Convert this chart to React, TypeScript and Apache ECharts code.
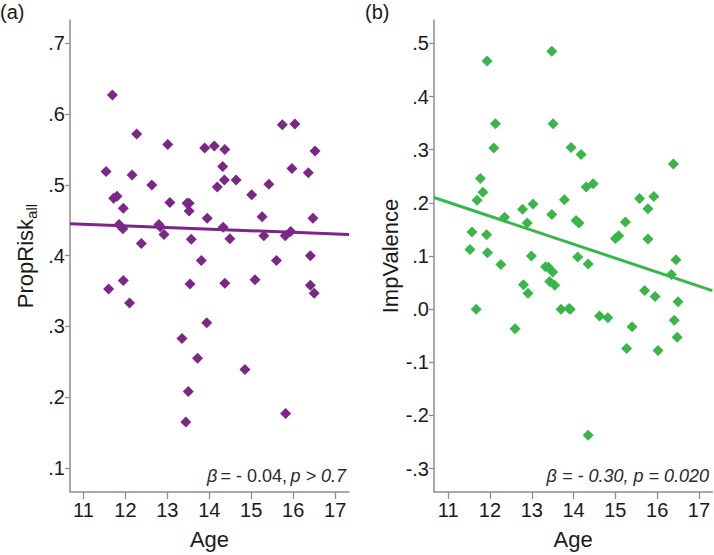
import React, { useEffect, useRef } from "react";
import * as echarts from "echarts";

// Panel (a): Age vs PropRisk_all
const ageA = [
  11.69, 11.54, 12.16, 12.27, 12.63, 11.72, 11.8, 11.95, 11.85, 11.94, 12.38, 12.8, 12.83, 12.92, 13.01,
  13.06, 13.47, 13.52, 13.52, 13.57, 13.81, 13.89, 13.95, 14.12, 14.19, 14.32, 14.37, 14.36, 14.33, 14.49,
  14.64, 15.01, 15.26, 15.3, 15.42, 15.6, 15.74, 16.04, 15.97, 15.81, 15.94, 16.36, 16.52, 16.47, 16.41,
  11.6, 11.95, 12.1, 13.54, 14.37, 15.09, 16.41, 16.5, 13.94, 13.35, 13.72, 14.85, 13.5, 13.44, 15.82,
];
const riskA = [
  0.627, 0.519, 0.514, 0.572, 0.5, 0.481, 0.484, 0.467, 0.444, 0.438, 0.417, 0.444, 0.441, 0.43, 0.557,
  0.475, 0.474, 0.474, 0.463, 0.423, 0.393, 0.552, 0.453, 0.555, 0.497, 0.526, 0.55, 0.507, 0.44, 0.424,
  0.507, 0.486, 0.455, 0.428, 0.501, 0.393, 0.585, 0.586, 0.523, 0.428, 0.434, 0.517, 0.548, 0.453, 0.4,
  0.353, 0.365, 0.333, 0.36, 0.361, 0.366, 0.358, 0.347, 0.305, 0.283, 0.255, 0.239, 0.208, 0.165, 0.177,
];
const fitAgeA = [10.68, 17.33];
const fitRiskA = [0.445, 0.43];

// Panel (b): Age vs ImpValence
const ageB = [
  11.93, 13.48, 12.13, 13.51, 12.09, 13.94, 14.18, 11.77, 11.83, 11.69, 12.35, 12.78, 12.89, 13.03, 13.48,
  13.78, 14.3, 14.47, 14.06, 14.13, 11.57, 11.92, 11.52, 11.94, 12.26, 12.99, 13.33, 13.4, 13.5, 14.1,
  14.35, 15.0, 15.08, 15.24, 15.58, 15.78, 15.92, 15.78, 16.39, 16.45, 16.34, 12.8, 12.91, 13.43, 13.55,
  15.7, 15.95, 16.5, 11.67, 13.7, 13.89, 13.92, 12.6, 14.62, 14.82, 15.4, 16.41, 16.48, 15.27, 16.02, 14.35,
];
const valB = [
  0.467, 0.485, 0.349, 0.349, 0.303, 0.304, 0.291, 0.246, 0.22, 0.205, 0.173, 0.188, 0.162, 0.198, 0.178,
  0.206, 0.23, 0.236, 0.167, 0.162, 0.145, 0.14, 0.112, 0.106, 0.084, 0.1, 0.08, 0.079, 0.07, 0.098,
  0.085, 0.133, 0.138, 0.164, 0.208, 0.189, 0.212, 0.132, 0.273, 0.093, 0.065, 0.046, 0.03, 0.052, 0.045,
  0.035, 0.024, 0.014, 0.0, 0.0, 0.001, 0.0, -0.037, -0.013, -0.016, -0.033, -0.021, -0.053, -0.074, -0.078, -0.237,
];
const fitAgeB = [10.66, 17.32];
const fitValB = [0.21, 0.035];

// Axis ticks
const xTicks = [11, 12, 13, 14, 15, 16, 17];
const yTicksA = [0.1, 0.2, 0.3, 0.4, 0.5, 0.6, 0.7];
const yTicksB = [-0.3, -0.2, -0.1, 0.0, 0.1, 0.2, 0.3, 0.4, 0.5];

const PURPLE = "#7a2785";
const GREEN = "#39b54a";
const FONT = "Liberation Sans, Arial, sans-serif";
const AXIS_COLOR = "#8e8e8e";
const TEXT_COLOR = "#1a1a1a";

const fmtDot = (v: number) => {
  const s = Math.abs(v).toFixed(1).replace(/^0/, "");
  return v < -1e-9 ? "-" + s : s;
};

const zip = (xs: number[], ys: number[]) => xs.map((x, i) => [x, ys[i]]);

export default function App() {
  const ref = useRef<HTMLDivElement>(null);
  useEffect(() => {
    document.body.style.margin = "0";
    if (!ref.current) return;
    const chart = echarts.init(ref.current, null, { renderer: "svg" });

    const xAxisBase = (gridIndex: number, min: number, max: number) => ({
      type: "value",
      gridIndex,
      min,
      max,
      name: "Age",
      nameLocation: "middle",
      nameGap: 36,
      nameTextStyle: { fontFamily: FONT, fontSize: 22, color: TEXT_COLOR },
      axisLine: { show: true, onZero: false, lineStyle: { color: AXIS_COLOR, width: 1.5 } },
      axisTick: { show: true, length: 7, customValues: xTicks, lineStyle: { color: AXIS_COLOR, width: 1.3 } },
      axisLabel: {
        customValues: xTicks,
        fontFamily: FONT,
        fontSize: 20,
        color: TEXT_COLOR,
        margin: 8,
      },
      splitLine: { show: false },
    });

    const yAxisBase = (gridIndex: number, min: number, max: number, ticks: number[], name: string, rich: any) => ({
      type: "value",
      gridIndex,
      min,
      max,
      name,
      nameLocation: "middle",
      nameRotate: 90,
      nameGap: 31,
      nameTextStyle: { fontFamily: FONT, fontSize: 22, color: TEXT_COLOR, rich },
      axisLine: { show: true, onZero: false, lineStyle: { color: AXIS_COLOR, width: 1.5 } },
      axisTick: { show: true, length: 5, customValues: ticks, lineStyle: { color: AXIS_COLOR, width: 1.3 } },
      axisLabel: {
        customValues: ticks,
        formatter: (v: number) => fmtDot(v),
        fontFamily: FONT,
        fontSize: 20,
        color: TEXT_COLOR,
        margin: 5,
      },
      splitLine: { show: false },
    });

    const richName = {
      m: { fontFamily: FONT, fontSize: 22, color: TEXT_COLOR, lineHeight: 28, verticalAlign: "middle" },
      sub: { fontFamily: FONT, fontSize: 15, color: TEXT_COLOR, lineHeight: 15, verticalAlign: "bottom" },
    };

    chart.setOption({
      animation: false,
      backgroundColor: "#ffffff",
      grid: [
        { left: 70, top: 20, width: 279, bottom: 59.7, containLabel: false },
        { left: 434, top: 20, width: 278.3, bottom: 59.7, containLabel: false },
      ],
      xAxis: [xAxisBase(0, 10.68, 17.33), xAxisBase(1, 10.66, 17.32)],
      yAxis: [
        yAxisBase(0, 0.066, 0.733, yTicksA, "{m|PropRisk}{sub|all}", richName),
        yAxisBase(1, -0.344, 0.544, yTicksB, "ImpValence", {}),
      ],
      series: [
        {
          type: "scatter",
          xAxisIndex: 0,
          yAxisIndex: 0,
          symbol: "diamond",
          symbolSize: 11,
          itemStyle: { color: PURPLE, opacity: 1 },
          data: zip(ageA, riskA),
          z: 3,
        },
        {
          type: "line",
          xAxisIndex: 0,
          yAxisIndex: 0,
          showSymbol: false,
          symbol: "none",
          lineStyle: { color: PURPLE, width: 3 },
          data: zip(fitAgeA, fitRiskA),
          z: 2,
        },
        {
          type: "scatter",
          xAxisIndex: 1,
          yAxisIndex: 1,
          symbol: "diamond",
          symbolSize: 11,
          itemStyle: { color: GREEN, opacity: 1 },
          data: zip(ageB, valB),
          z: 3,
        },
        {
          type: "line",
          xAxisIndex: 1,
          yAxisIndex: 1,
          showSymbol: false,
          symbol: "none",
          lineStyle: { color: GREEN, width: 3 },
          data: zip(fitAgeB, fitValB),
          z: 2,
        },
      ],
      graphic: [
        {
          type: "text",
          x: 0,
          y: 2,
          style: { text: "(a)", font: `20px ${FONT}`, fill: TEXT_COLOR },
        },
        {
          type: "text",
          x: 365,
          y: 2,
          style: { text: "(b)", font: `20px ${FONT}`, fill: TEXT_COLOR },
        },
        {
          type: "text",
          x: 346,
          y: 476,
          style: {
            text: "{i|β} {n|= - 0.04,} {i|p > 0.7}",
            align: "right",
            verticalAlign: "middle",
            rich: {
              i: { fontFamily: FONT, fontSize: 18, fontStyle: "italic", fill: "#2a2a2a" },
              n: { fontFamily: FONT, fontSize: 18, fill: "#2a2a2a" },
            },
          },
        },
        {
          type: "text",
          x: 709,
          y: 476,
          style: {
            text: "β = - 0.30, p = 0.020",
            align: "right",
            verticalAlign: "middle",
            font: `italic 18px ${FONT}`,
            fill: "#2a2a2a",
          },
        },
      ],
    });
    return () => chart.dispose();
  }, []);
  return <div ref={ref} style={{ width: 714, height: 555 }} />;
}
